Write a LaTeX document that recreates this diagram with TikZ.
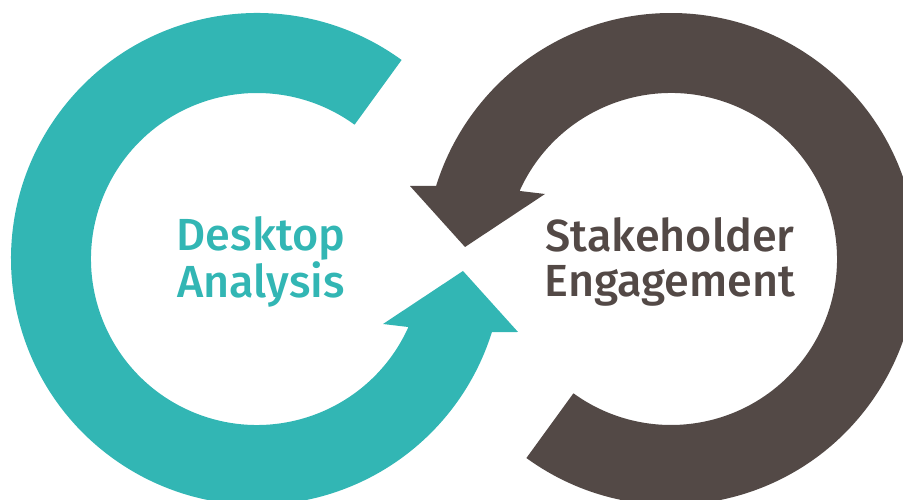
\documentclass[tikz,border=0pt]{standalone}
\usepackage{fontspec}
\newfontfamily\labelfont{Fira Sans Medium}
\usepackage{tikz}
\usetikzlibrary{positioning}
\definecolor{deskteal}{RGB}{50,182,180}
\definecolor{stakebrown}{RGB}{83,73,70}

\begin{document}
\begin{tikzpicture}[
    x=0.02cm, y=0.02cm,
    ring/.style={draw=none},
    ringtext/.style={align=center, font=\labelfont\fontsize{25.6}{25.4}\selectfont, inner sep=0pt}
  ]
    \clip (0,0) rectangle (903,500);
    \coordinate (tc) at (257,241);
    \coordinate (bc) at (671,241);

    % teal ring, running anticlockwise into an arrowhead pointing up
    \fill[ring, deskteal] ([shift={(54:246)}]tc) arc[start angle=54, end angle=342.7, radius=246]
        -- (518,168) -- (463,229) -- (383,176)
        -- ([shift={(335.8:166)}]tc) arc[start angle=335.8, end angle=54, radius=166] -- cycle;

    % brown ring, the same turned half way round
    \fill[ring, stakebrown] ([shift={(234:246)}]bc) arc[start angle=234, end angle=522.7, radius=246]
        -- (410,314) -- (465,253) -- (545,306)
        -- ([shift={(155.8:166)}]bc) arc[start angle=155.8, end angle=-126, radius=166] -- cycle;

    \node[ringtext, text=deskteal] (desk) at (261,238) {Desktop\\Analysis};
    \node[ringtext, text=stakebrown] (stake) at (670,238) {Stakeholder\\Engagement};
  \end{tikzpicture}
\end{document}
